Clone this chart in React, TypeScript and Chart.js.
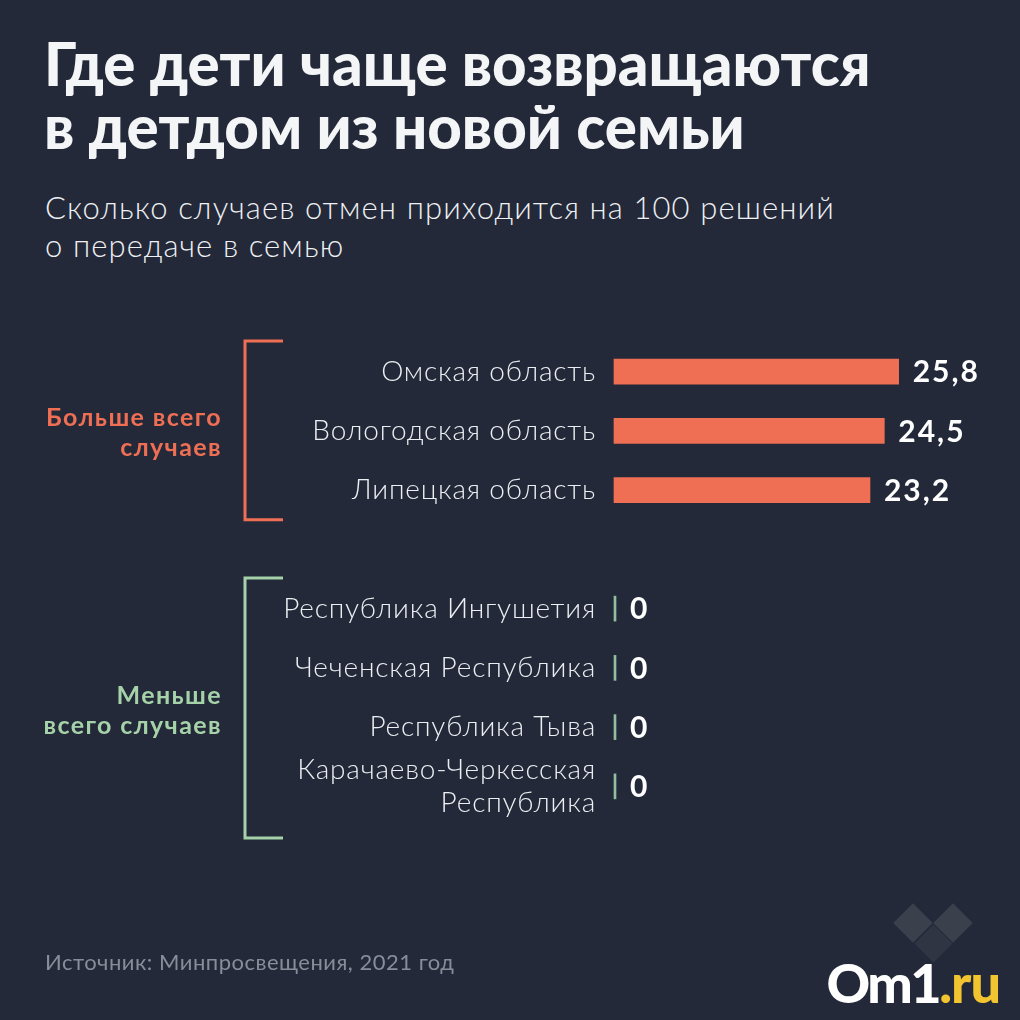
import React, { useEffect, useRef } from 'react';
import { Chart, registerables } from 'chart.js';

Chart.register(...registerables);

const categories: (string | string[])[] = [
  'Омская область',
  'Вологодская область',
  'Липецкая область',
  '',
  'Республика Ингушетия',
  'Чеченская Республика',
  'Республика Тыва',
  ['Карачаево-Черкесская', 'Республика'],
];
const mostValues = [25.8, 24.5, 23.2, null, null, null, null, null];
const leastValues = [null, null, null, null, 0, 0, 0, 0];
const groupTitles = [
  ['Больше всего', 'случаев'],
  ['Меньше', 'всего случаев'],
];
const groupRanges = [
  [0, 2],
  [4, 7],
];
const titleLines = ['Где дети чаще возвращаются', 'в детдом из новой семьи'];
const subtitleLines = ['Сколько случаев отмен приходится на 100 решений', 'о передаче в семью'];
const sourceText = 'Источник: Минпросвещения, 2021 год';

const BG = '#232938';
const ORANGE = '#ef6f55';
const GREEN = '#a6d2a9';
const GREEN_BAR = '#93bd9f';
const FONT = 'Lato, "Noto Sans", sans-serif';

const decorPlugin = {
  id: 'decor',
  beforeDraw(chart: any) {
    chart.ctx.letterSpacing = '0.8px';
  },
  afterDatasetsDraw(chart: any) {
    const ctx = chart.ctx;
    // value labels
    chart.data.datasets.forEach((ds: any, di: number) => {
      const meta = chart.getDatasetMeta(di);
      meta.data.forEach((el: any, i: number) => {
        const v = ds.data[i];
        if (v === null || v === undefined) return;
        ctx.save();
        ctx.letterSpacing = '2px';
        ctx.fillStyle = '#ffffff';
        ctx.font = `700 30px ${FONT}`;
        ctx.textAlign = 'left';
        ctx.textBaseline = 'middle';
        ctx.fillText(String(v).replace('.', ','), el.x + 14, el.y + 1);
        ctx.restore();
      });
    });
    // brackets and group titles
    const y = chart.scales.y;
    const slot = y.getPixelForValue(1) - y.getPixelForValue(0);
    const colors = [ORANGE, GREEN];
    const extraBottom = [0.5, 0.87];
    groupRanges.forEach((r, g) => {
      const top = y.getPixelForValue(r[0]) - slot * 0.515;
      const bottom = y.getPixelForValue(r[1]) + slot * extraBottom[g];
      const bx = 245;
      ctx.save();
      ctx.strokeStyle = colors[g];
      ctx.lineWidth = 3;
      ctx.beginPath();
      ctx.moveTo(283, top);
      ctx.lineTo(bx, top);
      ctx.lineTo(bx, bottom);
      ctx.lineTo(283, bottom);
      ctx.stroke();
      const mid = (top + bottom) / 2 + 3;
      ctx.fillStyle = colors[g];
      ctx.letterSpacing = '1.4px';
      ctx.font = `700 25px ${FONT}`;
      ctx.textAlign = 'right';
      ctx.textBaseline = 'middle';
      ctx.fillText(groupTitles[g][0], 222, mid - 15);
      ctx.fillText(groupTitles[g][1], 222, mid + 15);
      ctx.restore();
    });
  },
};

export default function App() {
  const ref = useRef<HTMLCanvasElement>(null);
  useEffect(() => {
    if (!ref.current) return;
    const chart = new Chart(ref.current, {
      type: 'bar',
      data: {
        labels: categories as any,
        datasets: [
          {
            data: mostValues as any,
            backgroundColor: ORANGE,
            barThickness: 25,
            grouped: false,
            clip: false as any,
          },
          {
            data: leastValues as any,
            backgroundColor: GREEN_BAR,
            barThickness: 25,
            minBarLength: 2,
            grouped: false,
            clip: false as any,
          },
        ],
      },
      options: {
        indexAxis: 'y',
        responsive: false,
        animation: false,
        layout: { padding: { left: 0, top: 342, right: 75, bottom: 204 } },
        plugins: { legend: { display: false }, tooltip: { enabled: false }, title: { display: false } },
        scales: {
          x: { display: false, min: 0, max: 30 },
          y: {
            grid: { display: false, drawTicks: false },
            border: { display: false },
            afterFit: (scale: any) => {
              scale.width = 614;
            },
            ticks: {
              autoSkip: false,
              color: '#eceef2',
              padding: 18,
              font: { family: FONT, size: 28, weight: 300 as any, lineHeight: 1.15 },
            },
          },
        },
      },
      plugins: [decorPlugin],
    });
    return () => chart.destroy();
  }, []);

  return (
    <div style={{ position: 'fixed', left: 0, top: 0, width: 1020, height: 1020, background: BG, overflow: 'hidden', fontFamily: FONT }}>
      <div style={{ position: 'absolute', left: 44, top: 32, color: '#f4f5f7', fontSize: 60, fontWeight: 900, lineHeight: '63px', whiteSpace: 'nowrap' }}>
        {titleLines.map((t, i) => (
          <div key={i}>{t}</div>
        ))}
      </div>
      <div style={{ position: 'absolute', left: 45, top: 188, color: '#eef0f3', fontSize: 31, fontWeight: 300, lineHeight: '38px', letterSpacing: 1.1, whiteSpace: 'nowrap' }}>
        {subtitleLines.map((t, i) => (
          <div key={i}>{t}</div>
        ))}
      </div>
      <canvas ref={ref} width={1020} height={1020} style={{ position: 'absolute', left: 0, top: 0 }} />
      <div style={{ position: 'absolute', left: 45, top: 950, color: '#878d99', fontSize: 22, fontWeight: 400, lineHeight: '24px', letterSpacing: 0.5, whiteSpace: 'nowrap' }}>
        {sourceText}
      </div>
      <div style={{ position: 'absolute', left: 899, top: 909, width: 28, height: 28, background: 'rgba(255,255,255,0.11)', transform: 'rotate(45deg)' }} />
      <div style={{ position: 'absolute', left: 939, top: 909, width: 28, height: 28, background: 'rgba(255,255,255,0.11)', transform: 'rotate(45deg)' }} />
      <div style={{ position: 'absolute', left: 920, top: 930, width: 27, height: 27, background: 'rgba(255,255,255,0.06)', transform: 'rotate(45deg)' }} />
      <div style={{ position: 'absolute', right: 20, top: 953, fontSize: 54, fontWeight: 900, lineHeight: '60px', color: '#ffffff', letterSpacing: -2.5, whiteSpace: 'nowrap' }}>
        Om1<span style={{ color: '#f2c430', letterSpacing: -1 }}>.ru</span>
      </div>
    </div>
  );
}
